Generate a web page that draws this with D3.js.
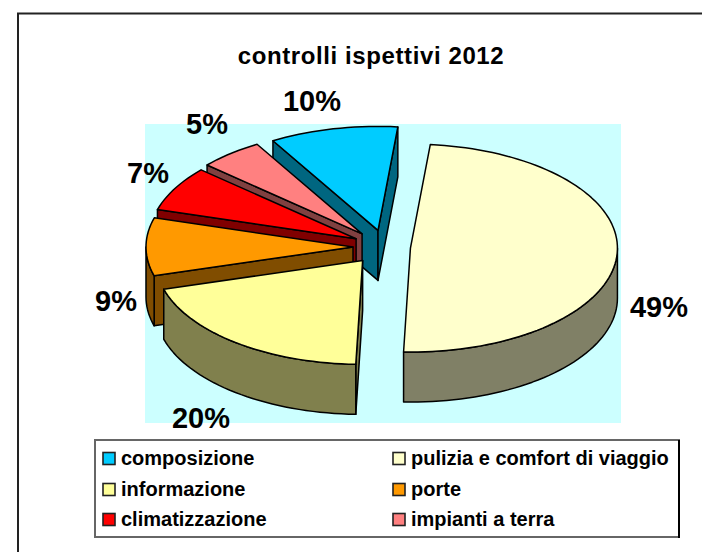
<!DOCTYPE html>
<html>
<head>
<meta charset="utf-8">
<script src="https://cdn.jsdelivr.net/npm/d3@7"></script>
<style>
  body { margin: 0; background: #fff; }
  text { font-family: "Liberation Sans", Arial, sans-serif; font-weight: bold; fill: #000; }
</style>
</head>
<body>
<div id="chart"></div>
<script>
const categories = ["composizione", "pulizia e comfort di viaggio", "informazione", "porte", "climatizzazione", "impianti a terra"];
const values = [10, 49, 20, 9, 7, 5];
const topColors = ["#00CCFF", "#FFFFCC", "#FFFF99", "#FF9900", "#FF0000", "#FF8080"];
const sideColors = ["#006680", "#808066", "#80804D", "#804D00", "#800000", "#804040"];
const title = "controlli ispettivi 2012";

const width = 702, height = 552;
const svg = d3.select("#chart").append("svg")
  .attr("width", width).attr("height", height)
  .style("display", "block");

// cornice (tagliata a destra e in basso) e sfondo
svg.append("path").attr("d", `M18,${height}V13.5H${width}`)
  .attr("fill", "none").attr("stroke", "#222").attr("stroke-width", 2);
svg.append("rect").attr("x", 145).attr("y", 124).attr("width", 476).attr("height", 299)
  .attr("fill", "#CCFFFF");

svg.append("text").attr("x", 371).attr("y", 64).attr("text-anchor", "middle")
  .style("font-size", "24px").style("letter-spacing", "0.6px").text(title);

// proiezione: cerchio unitario -> ellisse
const cx = 378, cy = 247, rx = 207, ry = 104, depth = 50;
const x = d3.scaleLinear().domain([-1, 1]).range([cx - rx, cx + rx]);
const y = d3.scaleLinear().domain([-1, 1]).range([cy - ry, cy + ry]);

const pie = d3.pie().sort(null).value(d => d)
  .startAngle(-30.5 * Math.PI / 180)
  .endAngle(329.5 * Math.PI / 180);

const explodeX = [0, 1.3, 1, 1, 1, 1];
const expX = 25 / rx, expY = 17 / ry;

const arcs = pie(values).map((a, i) => {
  const mid = (a.startAngle + a.endAngle) / 2;
  return {
    ...a, i,
    dx: (x(Math.sin(mid)) - cx) * expX * explodeX[i],
    dy: (y(-Math.cos(mid)) - cy) * expY
  };
});

const line = d3.line().curve(d3.curveLinear);

function pt(d, t, r, h) {
  return [
    x(r * Math.sin(t)) + d.dx,
    y(-r * Math.cos(t)) + d.dy + h
  ];
}
function rimAngles(a0, a1) {
  const n = Math.ceil((a1 - a0) / (Math.PI / 90));
  return d3.range(n + 1).map(j => a0 + (a1 - a0) * j / n);
}

// ordine di disegno: dal fondo verso il davanti
const order = [0, 5, 4, 3, 2, 1];
const g = svg.append("g")
  .attr("stroke", "#000").attr("stroke-width", 1.5).attr("stroke-linejoin", "round");

order.forEach(i => {
  const d = arcs[i];
  const side = sideColors[i];
  // pareti dei tagli, solo quelle rivolte verso chi guarda
  const walls = [];
  if (Math.sin(d.startAngle) < 0) walls.push(d.startAngle);
  if (Math.sin(d.endAngle) > 0) walls.push(d.endAngle);
  walls.forEach(t => {
    g.append("path").attr("fill", side)
      .attr("d", line([pt(d, 0, 0, 0), pt(d, t, 1, 0), pt(d, t, 1, depth), pt(d, 0, 0, depth)]) + "Z");
  });
  // bordo esterno visibile (metà davanti dell'ellisse)
  const f0 = Math.max(d.startAngle, Math.PI / 2);
  const f1 = Math.min(d.endAngle, 3 * Math.PI / 2);
  if (f1 > f0) {
    const as = rimAngles(f0, f1);
    const pts = as.map(t => pt(d, t, 1, 0)).concat(as.slice().reverse().map(t => pt(d, t, 1, depth)));
    g.append("path").attr("fill", side).attr("d", line(pts) + "Z");
  }
  // faccia superiore
  const topPts = [pt(d, 0, 0, 0)].concat(rimAngles(d.startAngle, d.endAngle).map(t => pt(d, t, 1, 0)));
  g.append("path").attr("fill", topColors[i]).attr("d", line(topPts) + "Z");
});

// etichette percentuali
const labelX = [312, 659, 201, 116, 148, 207];
const labelY = [111, 317, 428, 311, 183, 134];
values.forEach((v, i) => {
  svg.append("text").attr("x", labelX[i]).attr("y", labelY[i]).attr("text-anchor", "middle")
    .style("font-size", "29px").text(v + "%");
});

// legenda
const legendCols = [103, 393];
const legendRows = [458.5, 489.5, 519.5];
svg.append("rect").attr("x", 95).attr("y", 440).attr("width", 584).attr("height", 97)
  .attr("fill", "#fff").attr("stroke", "#666").attr("stroke-width", 2);
svg.append("line").attr("x1", 679).attr("x2", 679).attr("y1", 440).attr("y2", 538)
  .attr("stroke", "#000").attr("stroke-width", 2);
categories.forEach((c, i) => {
  const lx = legendCols[i % 2], ly = legendRows[Math.floor(i / 2)];
  svg.append("rect").attr("x", lx).attr("y", ly - 6).attr("width", 12).attr("height", 12)
    .attr("fill", topColors[i]).attr("stroke", "#222").attr("stroke-width", 1.6);
  svg.append("text").attr("x", lx + 18).attr("y", ly + 6).style("font-size", "20px").text(c);
});
</script>
</body>
</html>
